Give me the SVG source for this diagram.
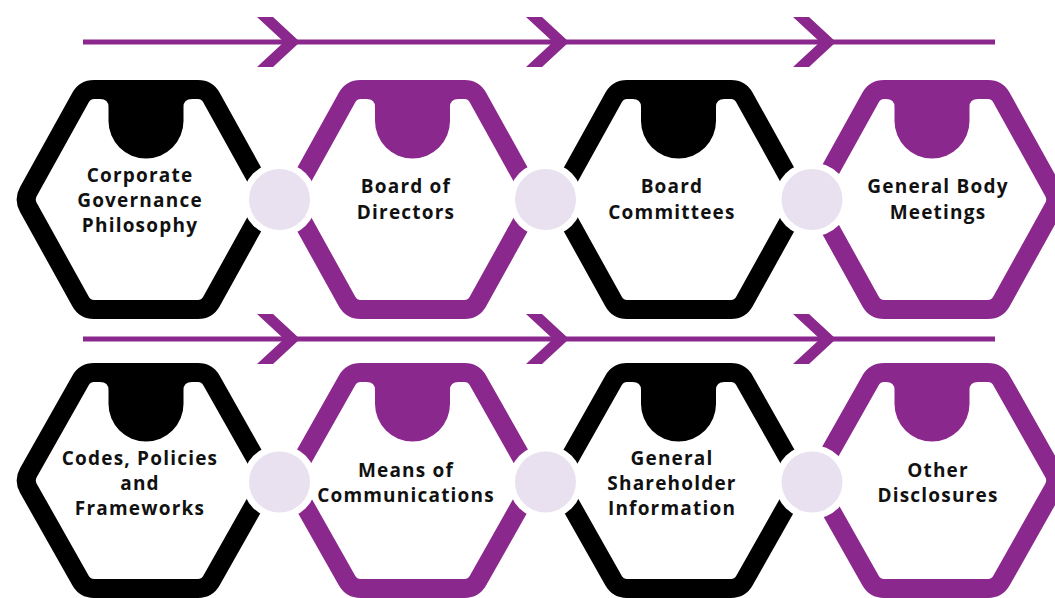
<svg xmlns="http://www.w3.org/2000/svg" xmlns:xlink="http://www.w3.org/1999/xlink" width="1055" height="598" viewBox="0 0 1055 598">
<style>
.hk{fill:none;stroke:#000;stroke-width:19;stroke-linejoin:round}
.hp{fill:none;stroke:#8B288D;stroke-width:19;stroke-linejoin:round}
.bk{fill:#000}
.bp{fill:#8B288D}
.ring{fill:#fff}
.dot{fill:#E9E1EF}
.ln{stroke:#8B288D;stroke-width:5;fill:none}
.chev{fill:#8B288D}
.t{font-family:"Open Sans","Liberation Sans",sans-serif;font-weight:700;font-size:19px;letter-spacing:1.2px;fill:#111;text-anchor:middle}
</style>
<defs>
<path id="hexA" d="M -117.635 -7.871 L -65.365 -102.129 Q -61 -110 -52 -110 L 52 -110 Q 61 -110 65.365 -102.129 L 117.635 -7.871 Q 122 0 117.635 7.871 L 65.365 102.129 Q 61 110 52 110 L -52 110 Q -61 110 -65.365 102.129 L -117.635 7.871 Q -122 0 -117.635 -7.871 Z"/>
<path id="hexB" d="M -117.574 -7.836 L -65.426 -100.164 Q -61 -108 -52 -108 L 52 -108 Q 61 -108 65.426 -100.164 L 117.574 -7.836 Q 122 0 117.574 7.836 L 65.426 100.164 Q 61 108 52 108 L -52 108 Q -61 108 -65.426 100.164 L -117.574 7.836 Q -122 0 -117.574 -7.836 Z"/>
<path id="blobA" d="M -46 -106 L -46 -100.5 Q -37.5 -100.5 -37.5 -92.5 L -37.5 -78.5 A 37.5 37.5 0 0 0 37.5 -78.5 L 37.5 -92.5 Q 37.5 -100.5 46 -100.5 L 46 -106 Z"/>
<path id="blobB" d="M -46 -104 L -46 -98.5 Q -37.5 -98.5 -37.5 -90.5 L -37.5 -76.5 A 37.5 37.5 0 0 0 37.5 -76.5 L 37.5 -90.5 Q 37.5 -98.5 46 -98.5 L 46 -104 Z"/>
<path id="chev" d="M -43 -25 L -27 -25 L 0 0 L -27 25 L -43 25 L -16 0 Z"/>
</defs>

<g id="connectors">
<line class="ln" x1="83" y1="42" x2="995" y2="42"/>
<use href="#chev" class="chev" x="300" y="42"/>
<use href="#chev" class="chev" x="569" y="42"/>
<use href="#chev" class="chev" x="836" y="42"/>
<line class="ln" x1="83" y1="339" x2="995" y2="339"/>
<use href="#chev" class="chev" x="300" y="339"/>
<use href="#chev" class="chev" x="569" y="339"/>
<use href="#chev" class="chev" x="836" y="339"/>
</g>

<g id="node-corporate-governance">
<use href="#hexA" class="hk" x="146" y="199.5"/>
<use href="#blobA" class="bk" x="146" y="199.5"/>
<text class="t" x="140" y="182">Corporate</text>
<text class="t" x="140" y="207">Governance</text>
<text class="t" x="140" y="232">Philosophy</text>
</g>
<g id="node-board-of-directors">
<use href="#hexA" class="hp" x="412.5" y="199.5"/>
<use href="#blobA" class="bp" x="412.5" y="199.5"/>
<text class="t" x="406" y="193">Board of</text>
<text class="t" x="406" y="219">Directors</text>
</g>
<g id="node-board-committees">
<use href="#hexA" class="hk" x="679" y="199.5"/>
<use href="#blobA" class="bk" x="678.5" y="199.5"/>
<text class="t" x="672" y="193">Board</text>
<text class="t" x="672" y="219">Committees</text>
</g>
<g id="node-general-body-meetings">
<use href="#hexA" class="hp" x="936" y="199.5"/>
<use href="#blobA" class="bp" x="932" y="199.5"/>
<text class="t" x="938" y="193">General Body</text>
<text class="t" x="938" y="219">Meetings</text>
</g>

<g id="node-codes-policies">
<use href="#hexB" class="hk" x="146" y="480.5"/>
<use href="#blobB" class="bk" x="146" y="480.5"/>
<text class="t" x="140" y="465">Codes, Policies</text>
<text class="t" x="140" y="490">and</text>
<text class="t" x="140" y="515">Frameworks</text>
</g>
<g id="node-means-of-communications">
<use href="#hexB" class="hp" x="412.5" y="480.5"/>
<use href="#blobB" class="bp" x="412.5" y="480.5"/>
<text class="t" x="406" y="477">Means of</text>
<text class="t" x="406" y="502">Communications</text>
</g>
<g id="node-general-shareholder-information">
<use href="#hexB" class="hk" x="679" y="480.5"/>
<use href="#blobB" class="bk" x="678.5" y="480.5"/>
<text class="t" x="672" y="465">General</text>
<text class="t" x="672" y="490">Shareholder</text>
<text class="t" x="672" y="515">Information</text>
</g>
<g id="node-other-disclosures">
<use href="#hexB" class="hp" x="936" y="480.5"/>
<use href="#blobB" class="bp" x="932" y="480.5"/>
<text class="t" x="938" y="477">Other</text>
<text class="t" x="938" y="502">Disclosures</text>
</g>

<g id="joints">
<circle class="ring" cx="279.5" cy="199.5" r="37"/>
<circle class="dot" cx="279.5" cy="199.5" r="30.5"/>
<circle class="ring" cx="545.5" cy="199.5" r="37"/>
<circle class="dot" cx="545.5" cy="199.5" r="30.5"/>
<circle class="ring" cx="812" cy="199.5" r="37"/>
<circle class="dot" cx="812" cy="199.5" r="30.5"/>
<circle class="ring" cx="279.5" cy="482" r="37"/>
<circle class="dot" cx="279.5" cy="482" r="30.5"/>
<circle class="ring" cx="545.5" cy="482" r="37"/>
<circle class="dot" cx="545.5" cy="482" r="30.5"/>
<circle class="ring" cx="812" cy="482" r="37"/>
<circle class="dot" cx="812" cy="482" r="30.5"/>
</g>
</svg>
